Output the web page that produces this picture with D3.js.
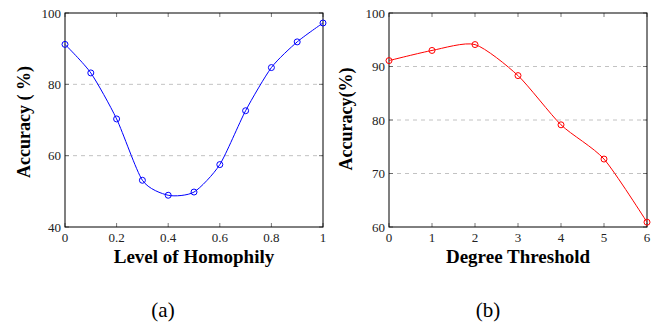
<!DOCTYPE html>
<html><head><meta charset="utf-8">
<script src="https://cdn.jsdelivr.net/npm/d3@7"></script>
<style>body{margin:0;background:#fff}svg{display:block}text{font-family:"Liberation Serif","Times New Roman",Times,"DejaVu Serif",serif}</style>
</head><body>
<svg id="c" width="657" height="324"></svg>
<script>
const homophilyX = [0,0.1,0.2,0.3,0.4,0.5,0.6,0.7,0.8,0.9,1.0];
const homophilyAcc = [91.2,83.2,70.3,53.1,48.9,49.8,57.5,72.6,84.7,91.9,97.2];
const degreeX = [0,1,2,3,4,5,6];
const degreeAcc = [91.1,93.0,94.1,88.3,79.1,72.7,60.9];
const ticksXA = [0,0.2,0.4,0.6,0.8,1];
const ticksYA = [40,60,80,100];
const ticksXB = [0,1,2,3,4,5,6];
const ticksYB = [60,70,80,90,100];

const svg = d3.select('#c');

function panel(o){
  const g = svg.append('g');
  const x = d3.scaleLinear().domain(o.xd).range([o.l,o.r]);
  const y = d3.scaleLinear().domain(o.yd).range([o.b,o.t]);
  g.selectAll('line.grid').data(o.yt.filter(v=>v>o.yd[0]&&v<o.yd[1])).enter().append('line')
    .attr('x1',o.l).attr('x2',o.r).attr('y1',d=>y(d)).attr('y2',d=>y(d))
    .attr('stroke','#b3b3b3').attr('stroke-width',0.8).attr('stroke-dasharray','4,4');
  const tl=4;
  o.xt.forEach(v=>{
    g.append('line').attr('x1',x(v)).attr('x2',x(v)).attr('y1',o.b).attr('y2',o.b-tl).attr('stroke','#555').attr('stroke-width',0.8);
    g.append('line').attr('x1',x(v)).attr('x2',x(v)).attr('y1',o.t).attr('y2',o.t+tl).attr('stroke','#555').attr('stroke-width',0.8);
  });
  o.yt.forEach(v=>{
    g.append('line').attr('x1',o.l).attr('x2',o.l+tl).attr('y1',y(v)).attr('y2',y(v)).attr('stroke','#555').attr('stroke-width',0.8);
    g.append('line').attr('x1',o.r).attr('x2',o.r-tl).attr('y1',y(v)).attr('y2',y(v)).attr('stroke','#555').attr('stroke-width',0.8);
  });
  g.append('rect').attr('x',o.l).attr('y',o.t).attr('width',o.r-o.l).attr('height',o.b-o.t)
    .attr('fill','none').attr('stroke','#000').attr('stroke-width',1);
  g.selectAll('text.xt').data(o.xt).enter().append('text')
    .attr('x',d=>x(d)).attr('y',o.b+15).attr('text-anchor','middle')
    .attr('font-size',13).attr('fill','#222').text(o.xf);
  g.selectAll('text.yt').data(o.yt).enter().append('text')
    .attr('x',o.l-4).attr('y',d=>y(d)+4.5).attr('text-anchor','end')
    .attr('font-size',13).attr('fill','#222').text(d=>d);
  const pts = o.xs.map((v,i)=>[v,o.ys[i]]);
  g.append('path').datum(pts).attr('fill','none').attr('stroke',o.color).attr('stroke-width',1)
    .attr('d',d3.line().x(d=>x(d[0])).y(d=>y(d[1])).curve(d3.curveCardinal.tension(0.3)));
  g.selectAll('circle').data(pts).enter().append('circle')
    .attr('cx',d=>x(d[0])).attr('cy',d=>y(d[1])).attr('r',3)
    .attr('fill','none').attr('stroke',o.color).attr('stroke-width',1);
  g.append('text').attr('x',o.xlc).attr('y',263).attr('text-anchor','middle')
    .attr('font-weight','bold').attr('font-size',19).text(o.xl);
  g.append('text').attr('transform',`translate(${o.yx},${o.ylc}) rotate(-90)`)
    .attr('text-anchor','middle').attr('font-weight','bold').attr('font-size',18).text(o.yl);
  g.append('text').attr('x',o.cap).attr('y',317).attr('text-anchor','middle')
    .attr('font-size',21).text(o.capt);
}

panel({l:65,r:323,t:13,b:227,xd:[0,1],yd:[40,100],xt:ticksXA,yt:ticksYA,xf:d=>d,
  xs:homophilyX,ys:homophilyAcc,color:'#0000ff',xl:'Level of Homophily',xlc:194,yl:'Accuracy ( %)',yx:30,ylc:122,cap:163,capt:'(a)'});
panel({l:389,r:647,t:13,b:227,xd:[0,6],yd:[60,100],xt:ticksXB,yt:ticksYB,xf:d=>d,
  xs:degreeX,ys:degreeAcc,color:'#ff0000',xl:'Degree Threshold',xlc:518,yl:'Accuracy(%)',yx:352,ylc:119,cap:488,capt:'(b)'});
</script>
</body></html>
